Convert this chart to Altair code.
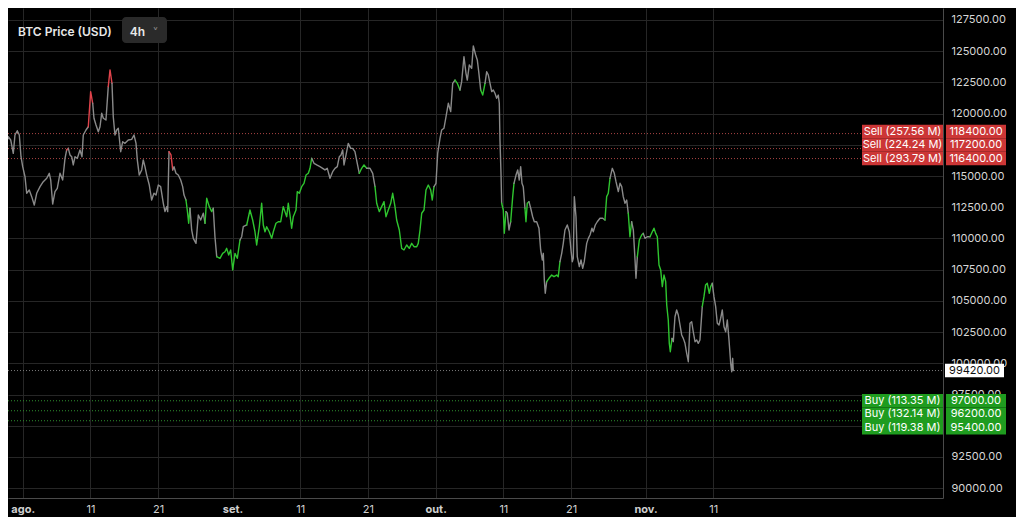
import altair as alt
import pandas as pd

# ---------------- data ----------------
# time of each vertex, in days after 2025-08-01 00:00
day_offsets = [
    -3.10, -2.87, -2.47, -2.13, -1.77, -1.39, -1.14, -0.80, -0.50, -0.25,
    0.00, 0.34, 0.59, 0.97, 1.33, 1.71, 2.07, 2.56, 3.04, 3.55,
    3.93, 4.14, 4.43, 4.77, 5.11, 5.51, 5.91, 6.25, 6.50, 6.74,
    6.99, 7.24, 7.47, 7.73, 8.07, 8.46, 8.76, 8.95, 9.35, 9.69,
    10.04, 10.34, 10.53, 10.83, 11.17, 11.42, 11.67, 11.91, 12.30, 12.64,
    12.90, 13.19, 13.38, 13.63, 13.88, 14.12, 14.48, 14.77, 15.11, 15.60,
    16.10, 16.44, 16.74, 16.93, 17.22, 17.58, 17.81, 18.06, 18.32, 18.70,
    19.05, 19.39, 19.69, 20.03, 20.38, 20.77, 21.02, 21.27, 21.42, 21.61,
    21.91, 22.16, 22.35, 22.64, 22.98, 23.34, 23.63, 23.83, 24.12, 24.31,
    24.52, 24.71, 24.96, 25.20, 25.60, 25.94, 26.29, 26.68, 26.93, 27.18,
    27.56, 27.92, 28.15, 28.40, 28.66, 29.14, 29.54, 29.88, 30.13, 30.43,
    30.72, 31.02, 31.36, 31.70, 32.10, 32.35, 32.58, 33.09, 33.57, 33.97,
    34.31, 34.56, 34.95, 35.30, 35.54, 35.79, 36.04, 36.42, 36.78, 37.02,
    37.41, 37.75, 38.11, 38.49, 38.74, 39.00, 39.23, 39.48, 39.73, 39.97,
    40.37, 40.56, 40.86, 41.21, 41.55, 41.85, 42.19, 42.44, 42.69, 43.03,
    43.43, 43.91, 44.31, 44.65, 44.99, 45.39, 45.79, 46.13, 46.47, 46.77,
    47.02, 47.27, 47.46, 47.76, 48.09, 48.45, 48.74, 49.08, 49.42, 49.72,
    50.07, 50.41, 50.81, 51.30, 51.70, 52.04, 52.29, 52.67, 53.03, 53.37,
    53.66, 54.00, 54.36, 54.65, 54.99, 55.24, 55.63, 55.98, 56.32, 56.72,
    57.10, 57.46, 57.80, 58.20, 58.43, 58.69, 58.94, 59.28, 59.57, 59.91,
    60.27, 60.50, 60.75, 61.05, 61.30, 61.64, 61.89, 62.23, 62.53, 62.87,
    63.22, 63.52, 63.86, 64.20, 64.59, 64.84, 65.18, 65.48, 65.67, 65.97,
    66.32, 66.56, 66.91, 67.15, 67.36, 67.65, 67.95, 68.29, 68.54, 68.78,
    69.03, 69.28, 69.51, 69.76, 70.01, 70.25, 70.40, 70.50, 70.65, 70.75,
    70.99, 71.14, 71.39, 71.58, 71.83, 72.08, 72.38, 72.57, 72.87, 73.12,
    73.35, 73.56, 73.75, 73.94, 74.19, 74.34, 74.53, 74.78, 75.04, 75.33,
    75.57, 75.92, 76.26, 76.51, 76.75, 76.90, 77.05, 77.19, 77.40, 77.74,
    78.14, 78.48, 78.88, 79.11, 79.36, 79.62, 79.85, 80.10, 80.44, 80.74,
    80.99, 81.18, 81.33, 81.48, 81.73, 81.92, 82.22, 82.47, 82.72, 82.95,
    83.31, 83.55, 83.80, 84.09, 84.28, 84.58, 84.87, 85.27, 85.67, 86.01,
    86.26, 86.50, 86.75, 87.09, 87.39, 87.64, 87.98, 88.23, 88.48, 88.71,
    88.97, 89.22, 89.45, 89.70, 89.95, 90.20, 90.45, 90.59, 90.79, 91.08,
    91.43, 91.67, 91.92, 92.26, 92.66, 93.00, 93.25, 93.50, 93.74, 93.99,
    94.24, 94.48, 94.73, 94.98, 95.13, 95.36, 95.51, 95.66, 95.91, 96.10,
    96.35, 96.60, 96.84, 97.09, 97.34, 97.58, 97.83, 98.08, 98.32, 98.57,
    98.82, 99.05, 99.31, 99.56, 99.79, 100.04, 100.38, 100.63, 100.87, 101.12,
    101.42, 101.62, 101.86, 102.11, 102.36, 102.60, 102.85, 103.10, 103.34, 103.59,
    103.84, 104.08, 104.33, 104.58, 104.73, 104.87, 104.96,
]

prices = [
    118550, 118950, 117490, 118150, 117890, 116820, 118290, 118630, 118290, 116550,
    115750, 114950, 113620, 113880, 113350, 112680, 113620, 114150, 114550, 114820,
    115220, 114680, 112760, 113750, 114020, 115220, 114680, 116420, 117090, 117220,
    116690, 116550, 115890, 116550, 116420, 117090, 116550, 118290, 118690, 118950,
    121760, 120830, 119630, 119090, 118550, 118950, 120030, 119630, 119490, 122160,
    123500, 122430, 119750, 118290, 118690, 118830, 116950, 117750, 117620, 117890,
    117940, 118290, 117620, 116290, 115080, 115490, 116290, 115750, 115080, 114280,
    113080, 113620, 113480, 114280, 114150, 112820, 112150, 112550, 112150, 116950,
    116690, 115490, 115750, 115220, 115080, 114680, 114150, 113480, 113080, 112280,
    111220, 112420, 110680, 110010, 109610, 111880, 111480, 112020, 111220, 113220,
    112550, 112150, 112420, 110140, 108540, 108410, 108810, 108940, 109210, 108680,
    109080, 107480, 108810, 108410, 109880, 110140, 110940, 111080, 112280, 111480,
    110540, 109480, 110940, 112820, 111080, 110540, 110940, 110540, 110010, 110540,
    111220, 111340, 111340, 112550, 112150, 111740, 112820, 111880, 110820, 111740,
    112280, 113750, 113620, 114150, 114420, 115080, 115220, 115620, 116420, 116020,
    115890, 115750, 115620, 115490, 115620, 114820, 115350, 115620, 115750, 116550,
    116690, 117090, 115890, 116690, 117620, 117220, 117220, 116950, 116020, 115220,
    115620, 115890, 115620, 115620, 115220, 114150, 112820, 112150, 112550, 112950,
    111740, 112280, 112820, 113620, 112550, 111480, 110680, 109210, 109080, 109480,
    109210, 109610, 109340, 109340, 109610, 110680, 112020, 112280, 113880, 114280,
    113880, 113080, 114150, 114420, 116820, 118020, 118690, 118830, 119750, 120830,
    120160, 122430, 122690, 122430, 121890, 122560, 124560, 123230, 122690, 123900,
    123630, 125420, 124700, 124300, 123360, 121890, 121490, 122430, 123360, 123090,
    122430, 121760, 121890, 121630, 121230, 121490, 120830, 117890, 115220, 112820,
    112280, 110420, 112150, 112020, 110680, 111340, 113350, 114420, 115080, 115490,
    114680, 115750, 114420, 114150, 112420, 111340, 112820, 112950, 112420, 111740,
    111340, 111340, 110820, 109080, 108280, 108810, 106670, 105610, 106540, 106810,
    107070, 106940, 107070, 106940, 108140, 108810, 109610, 110680, 111080, 110540,
    109080, 108140, 108410, 113350, 111740, 108540, 107740, 108280, 107610, 108140,
    109610, 110010, 110280, 110820, 110540, 111080, 111340, 111620, 111620, 111480,
    113350, 113620, 114820, 115620, 115220, 114550, 113750, 114420, 114150, 113350,
    112820, 113080, 112020, 110140, 111340, 110680, 108280, 106810, 108540, 109880,
    110280, 110410, 110010, 110140, 110140, 110540, 110820, 110410, 110140, 107880,
    107480, 106140, 107070, 106540, 104670, 103470, 101600, 100930, 102000, 101730,
    103730, 104270, 103870, 103070, 102270, 102000, 101600, 100800, 100130, 103210,
    103330, 102530, 101730, 101870, 101600, 101870, 104540, 105340, 106270, 106410,
    105610, 106140, 106410, 105340, 104540, 103210, 103070, 103610, 104270, 102930,
    102530, 103470, 101870, 100000, 99330, 100400, 99420,
]

# stretches of the line drawn in the sell (red) / buy (green) colour, in days
sell_spans = [(6.50, 6.74), (9.69, 10.34), (12.64, 13.19), (21.61, 22.16)]
buy_spans = [
    (24.12, 24.71), (26.93, 28.15), (28.66, 32.10), (33.09, 42.69),
    (49.72, 50.81), (52.04, 60.75), (63.86, 64.59), (67.65, 68.29),
    (70.75, 71.39), (72.08, 72.57), (74.19, 74.78), (77.40, 79.36),
    (86.01, 86.75), (89.45, 89.95), (90.79, 91.67), (92.66, 95.91),
    (100.38, 101.86),
]

sell_levels = [118400, 117200, 116400]
sell_volumes = [257.56, 224.24, 293.79]
buy_levels = [97000, 96200, 95400]
buy_volumes = [113.35, 132.14, 119.38]
last_price = 99420

price_ticks = [90000, 92500, 95000, 97500, 100000, 102500, 105000, 107500,
               110000, 112500, 115000, 117500, 120000, 122500, 125000, 127500]
tick_dates = ["2025-08-01", "2025-08-11", "2025-08-21", "2025-09-01", "2025-09-11",
              "2025-09-21", "2025-10-01", "2025-10-11", "2025-10-21", "2025-11-01",
              "2025-11-11"]
month_names = ["jan.", "fev.", "mar.", "abr.", "mai.", "jun.", "jul.", "ago.",
               "set.", "out.", "nov.", "dez."]

# ---------------- styling / layout ----------------
W, H = 935, 490
BG = "#000000"
GRID = "#262626"
AXIS_LINE = "#4a4a4a"
LINE_GRAY = "#8a8a8a"
LINE_GREEN = "#2fc52f"
LINE_RED = "#e0434b"
BOX_RED = "#cc3636"
BOX_GREEN = "#1f9c1f"
DOT_RED = "#a84444"
DOT_GREEN = "#2f8f2f"
FONT = "Inter"

y_domain = [89212, 128461]
x_start = pd.Timestamp("2025-07-29 19:55")
x_end = pd.Timestamp("2025-12-14 22:34")
usd_per_px = (y_domain[1] - y_domain[0]) / H
row_usd = 13.5 * usd_per_px


def dt(ts):
    return alt.DateTime(year=ts.year, month=ts.month, date=ts.day,
                        hours=ts.hour, minutes=ts.minute)


# ---------------- build the line table (coloured runs) ----------------
base = pd.Timestamp("2025-08-01")
times = [base + pd.to_timedelta(d, unit="D") for d in day_offsets]


def zone_of(mid):
    for a, b in sell_spans:
        if a <= mid <= b:
            return "sell"
    for a, b in buy_spans:
        if a <= mid <= b:
            return "buy"
    return "none"


zones = [zone_of((day_offsets[i] + day_offsets[i + 1]) / 2)
         for i in range(len(day_offsets) - 1)]
rows = []
run = 0
for i, z in enumerate(zones):
    if i == 0 or z != zones[i - 1]:
        if i > 0:
            run += 1
        rows.append({"t": times[i], "price": prices[i], "zone": z, "run": run})
    rows.append({"t": times[i + 1], "price": prices[i + 1], "zone": z, "run": run})
line_df = pd.DataFrame(rows)


# ---------------- order labels (stacked so they do not overlap) ----------------
def stack(levels, direction):
    order = sorted(levels, reverse=(direction < 0))
    pos = {}
    prev = None
    for lv in order:
        p = lv if prev is None else (max(lv, prev + row_usd) if direction > 0
                                     else min(lv, prev - row_usd))
        pos[lv] = p
        prev = p
    return pos


def order_table(levels, volumes, side, direction):
    pos = stack(levels, direction)
    out = []
    for lv, vol in zip(levels, volumes):
        out.append({"level": lv, "ly": pos[lv], "top": pos[lv] + row_usd / 2,
                    "bot": pos[lv] - row_usd / 2,
                    "label": f"{side} ({vol:.2f} M)", "ptxt": f"{lv:.2f}"})
    return pd.DataFrame(out)


sell_df = order_table(sell_levels, sell_volumes, "Sell", +1)
buy_df = order_table(buy_levels, buy_volumes, "Buy", -1)
last_df = pd.DataFrame([{"level": last_price, "top": last_price + row_usd / 2,
                         "bot": last_price - row_usd / 2,
                         "ptxt": f"{last_price:.2f}"}])
one = pd.DataFrame({"k": [0]})

x_axis = alt.Axis(
    values=[dt(pd.Timestamp(d)) for d in tick_dates],
    labelExpr="date(datum.value) == 1 ? " + str(month_names) +
              "[month(datum.value)] : '' + date(datum.value)",
    labelFontWeight={"condition": {"test": "date(datum.value) == 1", "value": "bold"},
                     "value": "normal"},
    grid=True, gridColor=GRID, gridWidth=1, ticks=False,
    domainColor=AXIS_LINE, labelColor="#cfcfcf", labelFontSize=11,
    labelFont=FONT, labelPadding=5, title=None, labelFlush=False,
)
y_axis = alt.Axis(
    orient="right", values=price_ticks, format=".2f", grid=True, gridColor=GRID,
    gridWidth=1, ticks=False, domainColor=AXIS_LINE, labelColor="#d6d6d6",
    labelFontSize=11, labelFont=FONT, labelPadding=8, labelAlign="left",
    title=None, labelOverlap=False, labelFlush=False,
)

x_scale = alt.Scale(domain=[dt(x_start), dt(x_end)])
y_scale = alt.Scale(domain=y_domain, zero=False, nice=False)


def yq(field, scale=False):
    if scale:
        return alt.Y(field, type="quantitative", axis=y_axis, scale=y_scale)
    return alt.Y(field, type="quantitative", axis=y_axis)


price_line = alt.Chart(line_df).mark_line(
    clip=True, strokeWidth=1.4, strokeJoin="round", strokeCap="round"
).encode(
    x=alt.X("t:T", scale=x_scale, axis=x_axis),
    y=yq("price", scale=True),
    color=alt.Color("zone:N", legend=None,
                    scale=alt.Scale(domain=["none", "buy", "sell"],
                                    range=[LINE_GRAY, LINE_GREEN, LINE_RED])),
    detail="run:N",
    order="t:T",
)


def dotted(df, colour, x2):
    return alt.Chart(df).mark_rule(strokeDash=[1, 2], strokeWidth=1,
                                   color=colour).encode(
        y=yq("level"), x=alt.value(0), x2=alt.value(x2))


def boxes(df, colour, xa, xb):
    return alt.Chart(df).mark_rect(fill=colour).encode(
        x=alt.value(xa), x2=alt.value(xb), y=yq("top"), y2="bot")


def texts(df, field, xc, colour="white"):
    return alt.Chart(df).mark_text(
        color=colour, fontSize=11, font=FONT, align="center", baseline="middle"
    ).encode(x=alt.value(xc), y=yq("ly" if "ly" in df else "level"),
             text=f"{field}:N")


layers = [
    dotted(sell_df, DOT_RED, 854), dotted(buy_df, DOT_GREEN, 854),
    dotted(last_df, "#7a7a7a", W),
    price_line,
    boxes(sell_df, BOX_RED, 854, W), boxes(sell_df, BOX_RED, 938, 998),
    boxes(buy_df, BOX_GREEN, 854, W), boxes(buy_df, BOX_GREEN, 938, 998),
    texts(sell_df, "label", 894.5), texts(sell_df, "ptxt", 968),
    texts(buy_df, "label", 894.5), texts(buy_df, "ptxt", 968),
    boxes(last_df, "#ffffff", 937, 996), texts(last_df, "ptxt", 966.5, "#111111"),
]

title_text = alt.Chart(one).mark_text(
    text="BTC Price (USD)", align="left", baseline="middle", fontSize=12,
    fontWeight=600, font=FONT, color="#e8e8e8"
).encode(x=alt.value(10), y=alt.value(23.5))
menu_box = alt.Chart(one).mark_rect(fill="#2a2a2a", cornerRadius=4).encode(
    x=alt.value(114), x2=alt.value(159), y=alt.value(9), y2=alt.value(35)
)
menu_text = alt.Chart(one).mark_text(
    text="4h", align="center", baseline="middle", fontSize=12, fontWeight=600,
    font=FONT, color="#e8e8e8"
).encode(x=alt.value(129.5), y=alt.value(23.5))
menu_arrow = alt.Chart(one).mark_text(
    text="˅", align="center", baseline="middle", fontSize=12,
    font="DejaVu Sans", color="#8a8a8a"
).encode(x=alt.value(147.5), y=alt.value(25))

chart = alt.layer(
    *layers, menu_box, title_text, menu_text, menu_arrow,
).properties(
    width=W, height=H,
    padding={"left": 0, "top": 0, "right": 73, "bottom": 19},
    autosize=alt.AutoSizeParams(type="none"),
    background=BG,
).configure_view(stroke=None)

chart.save("out.html", embed_options={"renderer": "svg", "actions": False})
